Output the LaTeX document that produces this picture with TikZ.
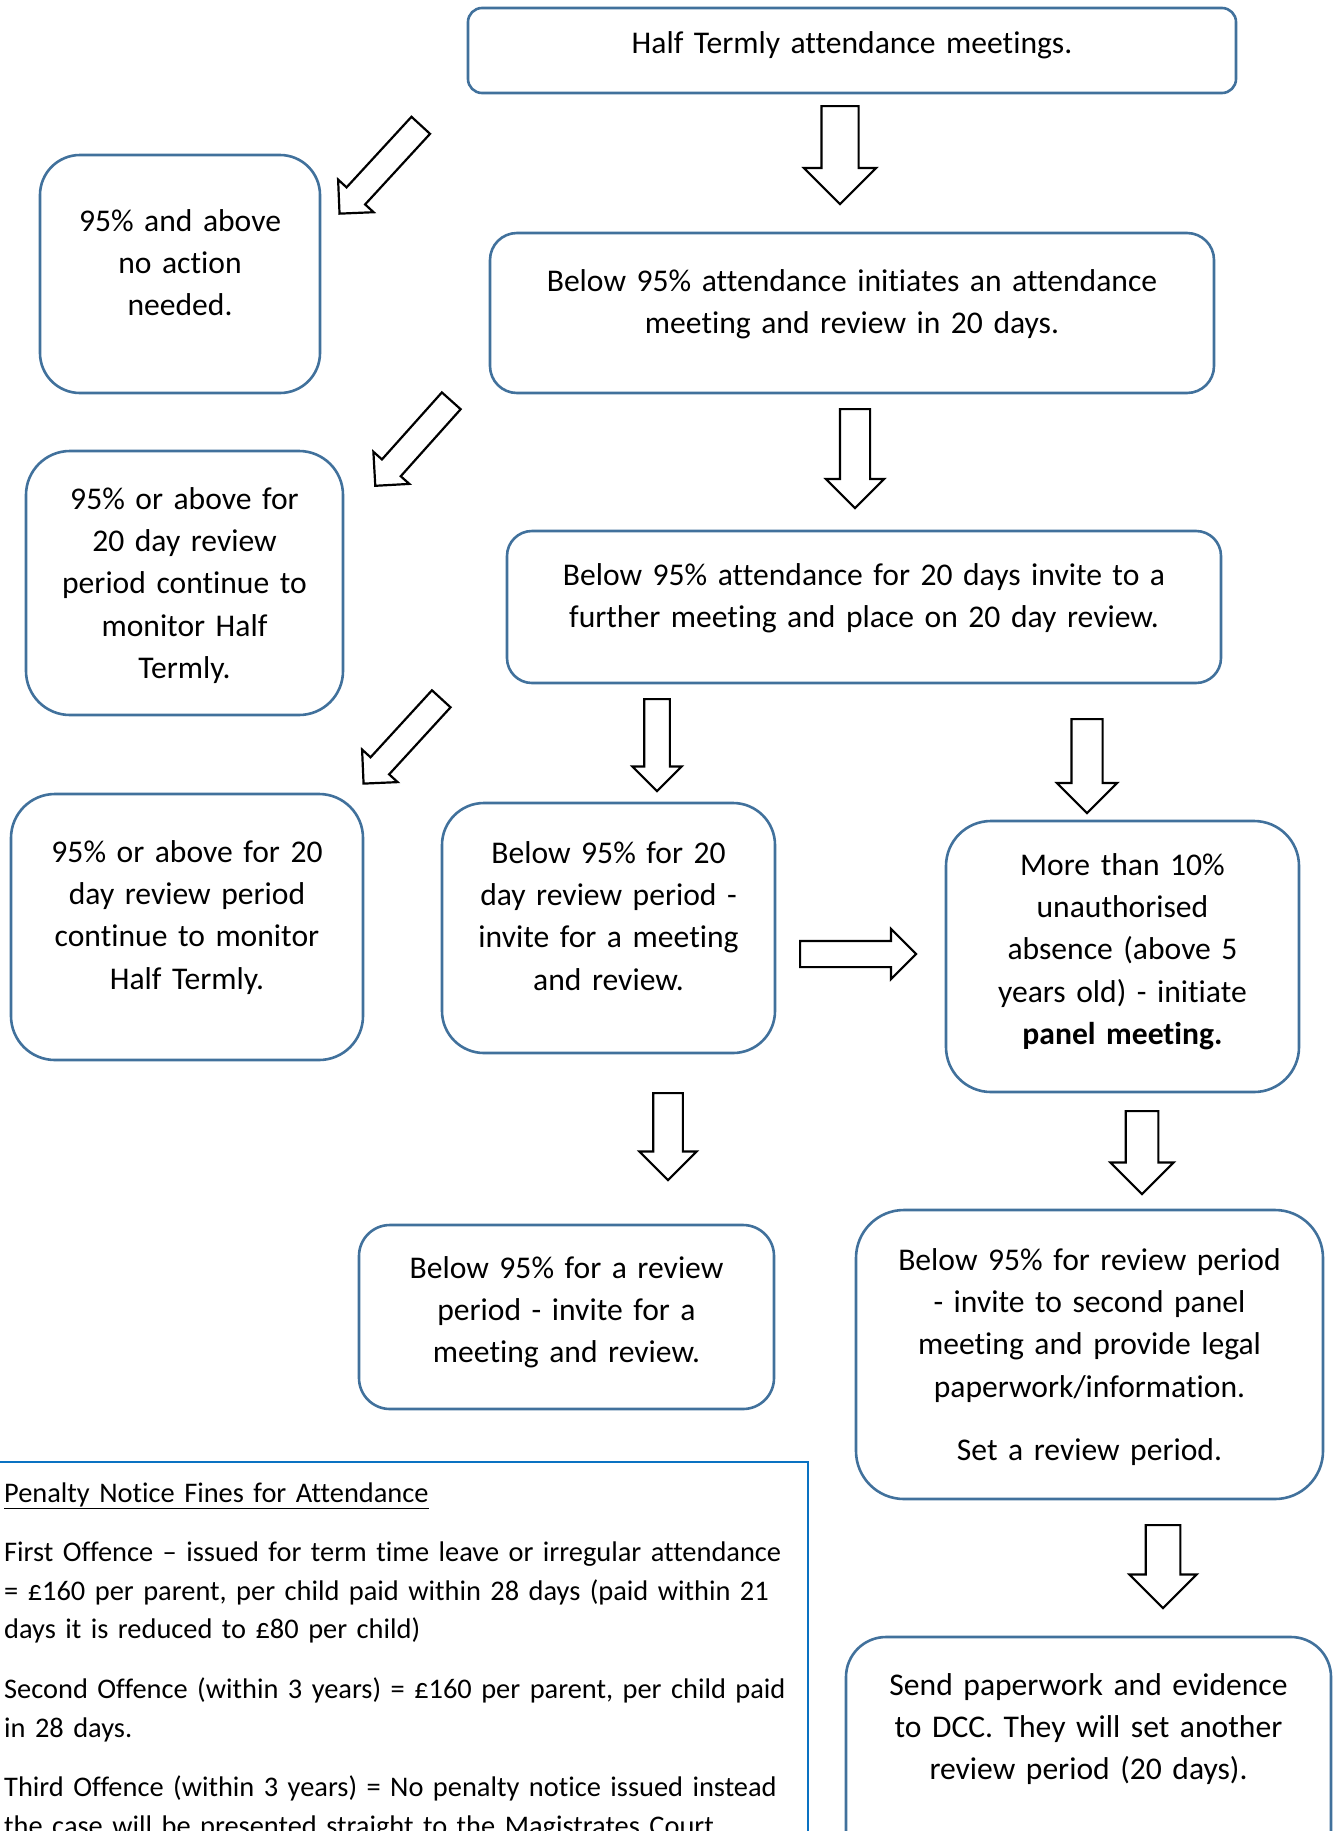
\documentclass[tikz,border=0pt]{standalone}
\usepackage{fontspec}
\setmainfont{Carlito}[Ligatures=NoCommon]
\usetikzlibrary{shapes.arrows}
\definecolor{boxblue}{HTML}{41719C}
\definecolor{noteblue}{HTML}{0A72C2}

\begin{document}
\begin{tikzpicture}[
	x=1pt,
	y=-1pt,
	flowbox/.style={
		draw=boxblue,
		line width=2.6pt,
		inner sep=0pt
	},
	flowtext/.style={
		anchor=base,
		align=center,
		text width=#1,
		inner sep=0pt,
		font=\fontsize{31.6}{42.4}\selectfont
	},
	blockarrow/.style={
		single arrow,
		draw=black,
		line width=2.2pt,
		fill=white,
		inner xsep=0pt,
		inner ysep=#1/4,
		single arrow head extend=#1/4,
		single arrow tip angle=90,
		anchor=tail
	}
]
	\useasboundingbox (0,0) rectangle (1333,1831);
	\clip (0,0) rectangle (1333,1831);
	% Kasten oben
	\node[
		flowbox,
		rounded corners=14pt,
		minimum width=768pt,
		minimum height=85pt
	] (halfterm) at (852,50.5) {};
	\node[
		flowtext=740pt
	] (halftermtext) at (852,53) {Half Termly attendance meetings.};
	% 95% keine Aktion
	\node[
		flowbox,
		rounded corners=40pt,
		minimum width=280pt,
		minimum height=238pt
	] (noaction) at (180,274) {};
	\node[
		flowtext=260pt
	] (noactiontext) at (180,231) {95\% and above\\no action\\needed.};
	% unter 95%
	\node[
		flowbox,
		rounded corners=27pt,
		minimum width=724pt,
		minimum height=160pt
	] (below) at (852,313) {};
	\node[
		flowtext=700pt
	] (belowtext) at (852,291) {Below 95\% attendance initiates an attendance\\meeting and review in 20 days.};
	% 95% nach 20 Tagen
	\node[
		flowbox,
		rounded corners=44pt,
		minimum width=317pt,
		minimum height=264pt
	] (monitorA) at (184.5,583) {};
	\node[
		flowtext=300pt
	] (monitorAtext) at (184.5,509) {95\% or above for\\20 day review\\period continue to\\monitor Half\\Termly.};
	% weiteres Treffen
	\node[
		flowbox,
		rounded corners=25pt,
		minimum width=714pt,
		minimum height=152pt
	] (further) at (864,607) {};
	\node[
		flowtext=690pt
	] (furthertext) at (864,585) {Below 95\% attendance for 20 days invite to a\\further meeting and place on 20 day review.};
	% 95% zweite Runde
	\node[
		flowbox,
		rounded corners=44pt,
		minimum width=352pt,
		minimum height=266pt
	] (monitorB) at (187,927) {};
	\node[
		flowtext=330pt
	] (monitorBtext) at (187,862) {95\% or above for 20\\day review period\\continue to monitor\\Half Termly.};
	% Einladung
	\node[
		flowbox,
		rounded corners=42pt,
		minimum width=333pt,
		minimum height=250pt
	] (invite) at (608.5,928) {};
	\node[
		flowtext=320pt
	] (invitetext) at (608.5,863) {Below 95\% for 20\\day review period -\\invite for a meeting\\and review.};
	% Panel
	\node[
		flowbox,
		rounded corners=45pt,
		minimum width=353pt,
		minimum height=271pt
	] (panel) at (1122.5,956.5) {};
	\node[
		flowtext=340pt
	] (paneltext) at (1122.5,875) {More than 10\%\\unauthorised\\absence (above 5\\years old) - initiate\\\textbf{panel meeting.}};
	% Review
	\node[
		flowbox,
		rounded corners=31pt,
		minimum width=415pt,
		minimum height=184pt
	] (review) at (566.5,1317) {};
	\node[
		flowtext=400pt
	] (reviewtext) at (566.5,1278) {Below 95\% for a review\\period - invite for a\\meeting and review.};
	% zweites Panel
	\node[
		flowbox,
		rounded corners=48pt,
		minimum width=467pt,
		minimum height=289pt
	] (secondpanel) at (1089.5,1354.5) {};
	\node[
		flowtext=450pt
	] (secondpaneltext) at (1089.5,1270) {Below 95\% for review period\\- invite to second panel\\meeting and provide legal\\paperwork/information.\\[21pt]Set a review period.};
	% DCC
	\node[
		flowbox,
		rounded corners=40pt,
		minimum width=485pt,
		minimum height=240pt
	] (dcc) at (1088.5,1757) {};
	\node[
		flowtext=470pt
	] (dcctext) at (1088.5,1695) {Send paperwork and evidence\\to DCC. They will set another\\review period (20 days).};
	% Bussgelder
	\node[
		draw=noteblue,
		line width=2.5pt,
		minimum width=828pt,
		minimum height=438pt,
		inner sep=0pt
	] (fines) at (394,1681) {};
	\node[
		anchor=base west,
		align=left,
		text width=1000pt,
		inner sep=0pt,
		font=\fontsize{28.4}{38.6}\selectfont
	] (finestext) at (4,1502) {\underline{Penalty Notice Fines for Attendance}\\[21pt]
		First Offence – issued for term time leave or irregular attendance\\
		= £160 per parent, per child paid within 28 days (paid within 21\\
		days it is reduced to £80 per child)\\[21pt]
		Second Offence (within 3 years) = £160 per parent, per child paid\\
		in 28 days.\\[21pt]
		Third Offence (within 3 years) = No penalty notice issued instead\\
		the case will be presented straight to the Magistrates Court};
	% Pfeile
	\node[
		blockarrow=70pt,
		minimum height=98pt,
		rotate=-90
	] (arrowA) at (840,105) {};
	\node[
		blockarrow=46pt,
		minimum height=120pt,
		rotate=-132.6
	] (arrowB) at (421.5,124.5) {};
	\node[
		blockarrow=56pt,
		minimum height=99pt,
		rotate=-90
	] (arrowC) at (855,408) {};
	\node[
		blockarrow=46pt,
		minimum height=114pt,
		rotate=-131.8
	] (arrowD) at (452,400) {};
	\node[
		blockarrow=46pt,
		minimum height=115pt,
		rotate=-132.5
	] (arrowE) at (442,698) {};
	\node[
		blockarrow=47pt,
		minimum height=92pt,
		rotate=-90
	] (arrowF) at (657,698) {};
	\node[
		blockarrow=58pt,
		minimum height=94pt,
		rotate=-90
	] (arrowG) at (1087,718) {};
	\node[
		blockarrow=48pt,
		minimum height=116pt,
		rotate=0
	] (arrowH) at (799,954) {};
	\node[
		blockarrow=55pt,
		minimum height=87pt,
		rotate=-90
	] (arrowI) at (668,1092) {};
	\node[
		blockarrow=61pt,
		minimum height=83pt,
		rotate=-90
	] (arrowJ) at (1142,1110) {};
	\node[
		blockarrow=65pt,
		minimum height=83pt,
		rotate=-90
	] (arrowK) at (1163,1524) {};
\end{tikzpicture}
\end{document}
